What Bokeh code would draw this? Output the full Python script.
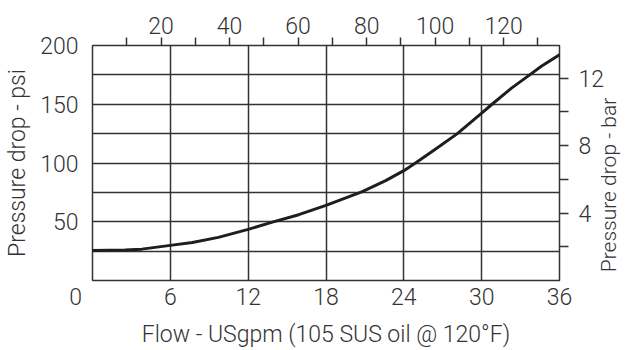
import math
from bokeh.plotting import figure
from bokeh.models import LinearAxis, Range1d, FixedTicker
from bokeh.embed import file_html
from bokeh.resources import INLINE

# Data
flow_gpm = [0, 2.5, 3.8, 6, 7.7, 9.7, 12, 13.8, 15.9, 18, 20.8, 22.6, 24, 24.9,
            26.4, 28.1, 30, 30.8, 32.3, 33.7, 34.6, 36]
pressure_psi = [25.6, 25.9, 26.7, 29.9, 32.4, 36.7, 43.5, 49.5, 56, 64, 75.6, 85,
                93.5, 100, 111.4, 124.8, 142.4, 150, 163.7, 175, 182.4, 192.1]

x_ticks_gpm = [0, 6, 12, 18, 24, 30, 36]
x_grid_gpm = [6, 12, 18, 24, 30]
y_ticks_psi = [50, 100, 150, 200]
y_grid_psi = [25, 50, 75, 100, 125, 150, 175]
lpm_major = [20, 40, 60, 80, 100, 120]
lpm_minor = [10, 30, 50, 70, 90, 110, 130]
bar_major = [4, 8, 12]
bar_minor = [2, 6, 10]

GPM_TO_LPM = 3.78541
PSI_PER_BAR = 14.35      # as drawn on the reference's bar scale

FONT = "Roboto Light"
FS = "23px"
TXT = "#333333"
LINE = "#333333"
NBSP = "\u00a0"

p = figure(width=636, height=350,
           x_range=Range1d(0, 36), y_range=Range1d(0, 200),
           output_backend="svg", toolbar_location=None,
           min_border_left=92, min_border_right=75,
           min_border_top=45, min_border_bottom=70)
p.background_fill_color = "white"
p.border_fill_color = "white"
p.outline_line_color = LINE
p.outline_line_width = 1.5

p.extra_x_ranges = {"lpm": Range1d(0, 36 * GPM_TO_LPM)}
p.extra_y_ranges = {"bar": Range1d(0, 200 / PSI_PER_BAR)}

def style_axis(ax, size=FS):
    ax.axis_line_color = None
    ax.major_label_text_font = FONT
    ax.major_label_text_font_size = size
    ax.major_label_text_color = TXT
    ax.axis_label_text_font = FONT
    ax.axis_label_text_font_size = size
    ax.axis_label_text_color = TXT
    ax.axis_label_text_font_style = "normal"
    ax.major_tick_line_color = LINE
    ax.minor_tick_line_color = LINE
    ax.major_tick_line_width = 1.5
    ax.minor_tick_line_width = 1.5
    ax.major_tick_in = 0
    ax.minor_tick_in = 0

# bottom axis (US gpm); the shared "0" sits left of the corner
bx = p.below[0]
bx.ticker = FixedTicker(ticks=x_ticks_gpm)
style_axis(bx)
bx.major_tick_out = 0
bx.minor_tick_out = 0
bx.major_label_standoff = 3
bx.major_label_overrides = {0: "0" + NBSP * 6}
bx.axis_label = "Flow - USgpm (105 SUS oil @ 120°F)"
bx.axis_label_standoff = 7

# left axis (psi)
ly = p.left[0]
ly.ticker = FixedTicker(ticks=y_ticks_psi)
style_axis(ly)
ly.major_tick_out = 0
ly.minor_tick_out = 0
ly.major_label_standoff = 14
ly.axis_label = "Pressure drop - psi"
ly.axis_label_standoff = 6

# top axis (l/min)
tx = LinearAxis(x_range_name="lpm",
                ticker=FixedTicker(ticks=lpm_major, minor_ticks=lpm_minor))
style_axis(tx)
tx.major_tick_out = 8
tx.minor_tick_out = 8
tx.major_label_standoff = 4
p.add_layout(tx, "above")

# right axis (bar)
ry = LinearAxis(y_range_name="bar",
                ticker=FixedTicker(ticks=bar_major, minor_ticks=bar_minor))
style_axis(ry)
ry.major_tick_out = 9
ry.minor_tick_out = 9
ry.major_label_standoff = 10
p.add_layout(ry, "right")

# right-hand title, drawn as the single rotated label of an outer axis so
# that it reads bottom to top (starts near the bottom of the frame)
TITLE_START_PSI = 7
ry2 = LinearAxis(ticker=FixedTicker(ticks=[TITLE_START_PSI], minor_ticks=[]),
                 major_label_overrides={TITLE_START_PSI: "Pressure drop - bar"},
                 major_label_orientation=math.pi / 2)
style_axis(ry2, size="21px")
ry2.major_tick_out = 0
ry2.minor_tick_out = 0
ry2.major_tick_line_color = None
ry2.minor_tick_line_color = None
ry2.major_label_standoff = 2
p.add_layout(ry2, "right")

# grid
p.xgrid.ticker = FixedTicker(ticks=x_grid_gpm)
p.ygrid.ticker = FixedTicker(ticks=y_grid_psi)
p.xgrid.grid_line_color = LINE
p.ygrid.grid_line_color = LINE
p.xgrid.grid_line_width = 1.5
p.ygrid.grid_line_width = 1.5
p.xgrid.grid_line_alpha = 1
p.ygrid.grid_line_alpha = 1

# curve
p.line(flow_gpm, pressure_psi, line_width=3, line_color="#1e1e1e",
       line_join="round", line_cap="round")

open("out.html", "w").write(file_html(p, INLINE))
